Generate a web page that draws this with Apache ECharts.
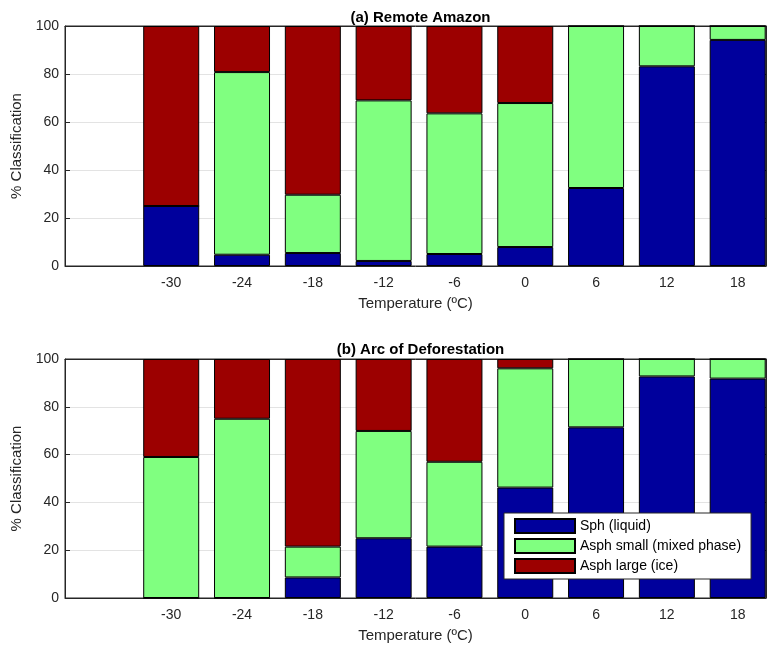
<!DOCTYPE html>
<html>
<head>
<meta charset="utf-8">
<script src="https://cdn.jsdelivr.net/npm/echarts@6/dist/echarts.min.js"></script>
<style>html,body{margin:0;padding:0;background:#fff;}#c{width:767px;height:648px;}</style>
</head>
<body>
<div id="c"></div>
<script>
const temps = [-30, -24, -18, -12, -6, 0, 6, 12, 18];
const seriesNames = ['Sph (liquid)', 'Asph small (mixed phase)', 'Asph large (ice)'];
const colors = ['#00009C', '#80FF80', '#9C0000'];

// (a) Remote Amazon
const amazonSph   = [25.0, 4.7, 5.4, 2.1, 5.0, 7.9, 32.5, 83.2, 94.2];
const amazonSmall = [0.0, 76.1, 24.3, 66.9, 58.6, 60.0, 67.5, 16.8, 5.8];
const amazonLarge = [75.0, 19.2, 70.3, 31.0, 36.4, 32.1, 0.0, 0.0, 0.0];

// (b) Arc of Deforestation
const arcSph   = [0.0, 0.0, 8.6, 25.0, 21.5, 46.2, 71.4, 92.7, 91.8];
const arcSmall = [59.0, 75.0, 12.9, 44.9, 35.5, 49.9, 28.6, 7.3, 8.2];
const arcLarge = [41.0, 25.0, 78.5, 30.1, 43.0, 3.9, 0.0, 0.0, 0.0];

const titles = ['(a) Remote Amazon', '(b) Arc of Deforestation'];
const yTicks = [0, 20, 40, 60, 80, 100];

const FONT = '"Liberation Sans", Arial, Helvetica, sans-serif';
const AX = '#262626';

const chart = echarts.init(document.getElementById('c'), null, {renderer: 'canvas'});

const grids = [
  {left: 65, top: 26, width: 701, height: 240},
  {left: 65, top: 359, width: 701, height: 239}
];

function xAxisFor(i, pos) {
  const main = pos === 'bottom';
  return {
    type: 'value', gridIndex: i, position: pos, min: -39, max: 20.4,
    name: main ? 'Temperature (ºC)' : '', nameLocation: 'middle', nameGap: 30,
    nameTextStyle: {fontFamily: FONT, fontSize: 15, color: AX},
    axisLine: {show: true, onZero: false, lineStyle: {color: AX, width: 1}},
    axisTick: {show: true, inside: true, length: 5, customValues: temps, lineStyle: {color: AX}},
    axisLabel: {show: main, customValues: temps, margin: 10, fontFamily: FONT, fontSize: 14, color: AX},
    splitLine: {show: false}
  };
}
function yAxisFor(i, pos) {
  const main = pos === 'left';
  return {
    type: 'value', gridIndex: i, position: pos, min: 0, max: 100, interval: 20,
    name: main ? '% Classification' : '', nameLocation: 'middle', nameGap: 37,
    nameTextStyle: {fontFamily: FONT, fontSize: 15, color: AX},
    axisLine: {show: true, onZero: false, lineStyle: {color: AX, width: 1}},
    axisTick: {show: true, inside: true, length: 5, lineStyle: {color: AX}},
    axisLabel: {show: main, margin: 6, fontFamily: FONT, fontSize: 14, color: AX,
      customValues: yTicks},
    splitLine: {show: main, lineStyle: {color: '#e3e3e3', width: 1}}
  };
}

const panels = [
  [amazonSph, amazonSmall, amazonLarge],
  [arcSph, arcSmall, arcLarge]
];

const series = [];
panels.forEach((vals, gi) => {
  vals.forEach((arr, si) => {
    series.push({
      type: 'bar', name: seriesNames[si],
      xAxisIndex: gi * 2, yAxisIndex: gi * 2,
      stack: 'p' + gi, barWidth: 56,
      // value first so the library stacks along the y dimension
      dimensions: [{name: 'pct', type: 'number'}, {name: 'temp', type: 'number'}],
      encode: {x: 'temp', y: 'pct'},
      itemStyle: {color: colors[si], borderColor: '#000', borderWidth: 1},
      emphasis: {disabled: true},
      data: temps.map((t, k) => [arr[k], t])
    });
  });
});

chart.setOption({
  animation: false,
  backgroundColor: '#fff',
  textStyle: {fontFamily: FONT},
  title: titles.map((t, i) => ({
    text: t, left: 65 + 701 / 2, top: i === 0 ? 5 : 337, textAlign: 'center',
    textStyle: {fontFamily: FONT, fontSize: 15, fontWeight: 'bold', color: '#000'}
  })),
  grid: grids.map(g => Object.assign({show: true, borderColor: AX, borderWidth: 1, backgroundColor: 'transparent'}, g)),
  xAxis: [xAxisFor(0, 'bottom'), xAxisFor(0, 'top'), xAxisFor(1, 'bottom'), xAxisFor(1, 'top')],
  yAxis: [yAxisFor(0, 'left'), yAxisFor(0, 'right'), yAxisFor(1, 'left'), yAxisFor(1, 'right')],
  legend: {
    data: seriesNames, orient: 'vertical', left: 504, top: 513,
    itemWidth: 60, itemHeight: 14, itemGap: 4,
    padding: [5, 10, 5, 10],
    backgroundColor: '#fff', borderColor: AX, borderWidth: 1,
    selectedMode: false,
    icon: 'rect',
    textStyle: {fontFamily: FONT, fontSize: 14, color: '#000'}
  },
  series: series
});
</script>
</body>
</html>
